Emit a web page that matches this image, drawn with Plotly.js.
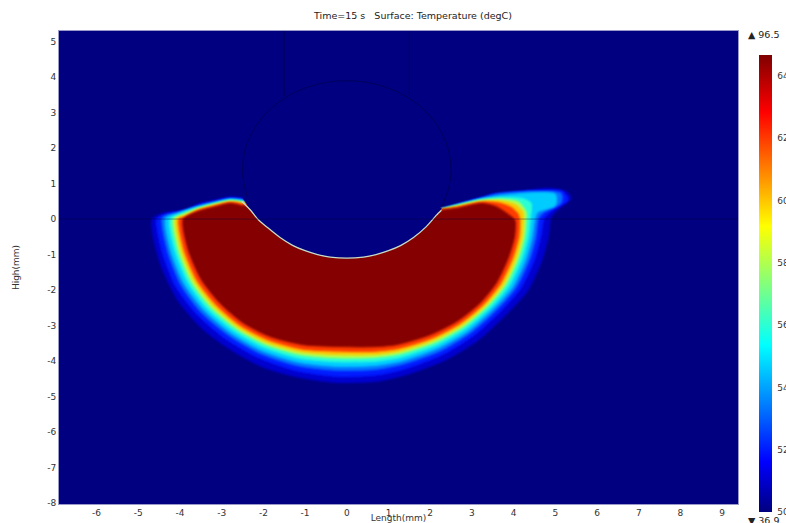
<!DOCTYPE html>
<html><head><meta charset="utf-8">
<script src="https://cdn.plot.ly/plotly-3.0.1.min.js"></script>
<style>html,body{margin:0;padding:0;background:#fff;overflow:hidden}#chart{width:786px;height:523px}</style>
</head><body><div id="chart"></div>
<script>
var titleText = "Time=15 s   Surface: Temperature (degC)";
var xTicks = [-6,-5,-4,-3,-2,-1,0,1,2,3,4,5,6,7,8,9];
var yTicks = [5,4,3,2,1,0,-1,-2,-3,-4,-5,-6,-7,-8];
var barTicks = [50,52,54,56,58,60,62,64];
var tempMin = 50, tempMax = 64.67;
var maxLabel = "▲ 96.5", minLabel = "▼ 36.9";

// Isotherm outlines, outermost first
var levels = [51, 52, 53.3, 54.6, 56, 58, 60, 62, 64.6];
var iso1x = [-2.48,-2.8,-3.2,-3.48,-3.92,-4.32,-4.66,-4.64,-4.44,-4.04,-3.48,-2.84,-2.03,-1.22,-0.3,0.72,1.44,2.4,3.16,3.82,4.33,4.68,4.83,4.9,5.14,5.38,5.26,4.78,3.98,3.19,2.63,2.27];
var iso1y = [0.58,0.62,0.52,0.45,0.24,0.18,0.01,-0.5,-1.36,-2.31,-3.07,-3.64,-4.16,-4.44,-4.6,-4.57,-4.38,-3.95,-3.4,-2.69,-2.03,-1.15,-0.5,0.06,0.35,0.58,0.77,0.86,0.72,0.6,0.4,0.28];
var iso2x = [-2.48,-2.8,-3.2,-3.5,-3.9,-4.3,-4.55,-4.43,-4.11,-3.61,-2.93,-2.15,-1.22,-0.29,0.69,1.37,2.3,3.04,3.68,4.16,4.5,4.65,4.74,4.94,5.3,5.18,4.4,3.5,3.2,2.63,2.27];
var iso2y = [0.56,0.59,0.49,0.42,0.22,0.15,0.02,-0.9,-1.88,-2.67,-3.36,-3.89,-4.27,-4.43,-4.4,-4.23,-3.82,-3.29,-2.61,-1.97,-1.14,-0.5,0.04,0.25,0.53,0.78,0.8,0.7,0.58,0.39,0.27];
var iso3x = [-2.48,-2.8,-3.2,-3.55,-4.1,-4.42,-4.3,-3.98,-3.5,-2.84,-2.09,-1.19,-0.29,0.67,1.34,2.25,2.96,3.58,4.05,4.38,4.53,4.6,4.74,5.14,5.14,4.4,3.6,3.2,2.63,2.27];
var iso3y = [0.54,0.57,0.47,0.37,0.17,0.04,-0.89,-1.85,-2.62,-3.27,-3.78,-4.13,-4.26,-4.24,-4.09,-3.71,-3.21,-2.57,-1.94,-1.13,-0.5,0.03,0.2,0.46,0.72,0.77,0.7,0.57,0.39,0.27];
var iso4x = [-2.5,-2.8,-3.2,-3.6,-4.05,-4.34,-4.22,-3.9,-3.42,-2.78,-2.05,-1.17,-0.28,0.66,1.31,2.2,2.9,3.51,3.97,4.29,4.44,4.51,4.58,5.0,5.0,4.5,3.7,3.2,2.63,2.27];
var iso4y = [0.52,0.55,0.45,0.33,0.16,0.02,-0.89,-1.82,-2.57,-3.21,-3.7,-4.03,-4.15,-4.13,-4.0,-3.63,-3.16,-2.53,-1.92,-1.13,-0.5,0.02,0.2,0.38,0.7,0.74,0.66,0.56,0.39,0.27];
var iso5x = [-2.5,-2.8,-3.2,-3.6,-4.0,-4.24,-4.12,-3.8,-3.34,-2.71,-2.0,-1.14,-0.27,0.65,1.28,2.16,2.84,3.44,3.88,4.2,4.35,4.4,4.42,4.2,3.7,3.2,2.63,2.27];
var iso5y = [0.5,0.53,0.43,0.31,0.14,0.0,-0.88,-1.8,-2.53,-3.15,-3.61,-3.92,-4.02,-4.01,-3.9,-3.55,-3.1,-2.5,-1.9,-1.12,-0.5,0.0,0.45,0.58,0.6,0.54,0.38,0.27];
var iso6x = [-2.52,-2.8,-3.2,-3.6,-3.95,-4.16,-4.04,-3.72,-3.26,-2.65,-1.96,-1.12,-0.27,0.63,1.26,2.12,2.79,3.37,3.8,4.11,4.26,4.3,4.3,4.12,3.7,3.2,2.63,2.27];
var iso6y = [0.48,0.51,0.41,0.28,0.12,0.0,-0.88,-1.78,-2.49,-3.09,-3.53,-3.82,-3.91,-3.9,-3.8,-3.47,-3.04,-2.46,-1.87,-1.12,-0.5,0.0,0.2,0.48,0.56,0.52,0.37,0.27];
var iso7x = [-2.55,-2.8,-3.2,-3.6,-3.9,-4.09,-3.97,-3.65,-3.2,-2.6,-1.93,-1.1,-0.26,0.62,1.24,2.08,2.74,3.32,3.74,4.05,4.2,4.23,4.22,4.05,3.7,3.25,2.63,2.27];
var iso7y = [0.46,0.49,0.39,0.26,0.1,0.0,-0.88,-1.76,-2.45,-3.05,-3.47,-3.74,-3.82,-3.82,-3.73,-3.41,-3.0,-2.44,-1.86,-1.11,-0.5,-0.01,0.2,0.4,0.51,0.5,0.35,0.27];
var iso8x = [-2.55,-2.8,-3.2,-3.6,-3.85,-4.02,-3.9,-3.58,-3.13,-2.55,-1.89,-1.08,-0.26,0.61,1.22,2.05,2.7,3.27,3.67,3.97,4.12,4.14,4.1,3.95,3.65,3.25,2.63,2.27];
var iso8y = [0.44,0.47,0.36,0.23,0.07,0.0,-0.87,-1.75,-2.42,-3.0,-3.4,-3.66,-3.72,-3.73,-3.65,-3.35,-2.95,-2.41,-1.84,-1.11,-0.5,-0.02,0.15,0.32,0.45,0.48,0.33,0.27];
var iso9x = [-2.56,-2.8,-3.2,-3.6,-3.92,-3.8,-3.48,-3.04,-2.48,-1.84,-1.05,-0.25,0.6,1.19,2.0,2.63,3.19,3.58,3.87,4.02,4.03,3.9,3.58,3.23,2.63,2.27];
var iso9y = [0.39,0.44,0.33,0.2,0.0,-0.87,-1.72,-2.37,-2.93,-3.31,-3.54,-3.59,-3.6,-3.54,-3.26,-2.89,-2.37,-1.81,-1.1,-0.5,-0.03,0.11,0.35,0.44,0.3,0.25];
var outlineX = [iso1x,iso2x,iso3x,iso4x,iso5x,iso6x,iso7x,iso8x,iso9x];
var outlineY = [iso1y,iso2y,iso3y,iso4y,iso5y,iso6y,iso7y,iso8y,iso9y];

// The crater edge of the melt
var arcX = [-2.52,-2.3,-2.12,-1.9,-1.6,-1.3,-1.0,-0.7,-0.4,0,0.4,0.7,1.0,1.3,1.6,1.9,2.15,2.27];
var arcY = [0.5,0.24,-0.02,-0.24,-0.52,-0.74,-0.89,-1.0,-1.07,-1.1,-1.07,-1.0,-0.89,-0.74,-0.52,-0.22,0.11,0.25];
var coverX = [-2.5,-2.3,-2.12,-1.9,-1.6,-1.3,-1.0,-0.7,-0.4,0,0.4,0.7,1.0,1.3,1.6,1.9,2.15,2.27,1.5,-1.5];
var coverY = [0.6,0.24,-0.02,-0.24,-0.52,-0.74,-0.89,-1.0,-1.07,-1.1,-1.07,-1.0,-0.89,-0.74,-0.52,-0.22,0.11,0.3,1.0,1.0];

// Faint geometry lines
var circleBox = [-2.5,-1.1,2.5,3.9];
var stemX = [-1.5,1.5];
var stemBottom = 3.46, stemTop = 5.3;
var baseY = 0;

var navy = "#000080";
var stops = [[0,[0,0,128]],[0.11,[0,0,255]],[0.365,[0,255,255]],[0.625,[255,255,0]],[0.875,[255,0,0]],[1,[128,0,0]]];
var colorscale = stops.map(function(s){return [s[0],"rgb("+s[1].join(",")+")"];});
function colourOf(t){
  var f=Math.max(0,Math.min(1,(t-tempMin)/(tempMax-tempMin)));
  for(var i=1;i<stops.length;i++){ if(f<=stops[i][0]){
    var a=stops[i-1],b=stops[i],k=(f-a[0])/(b[0]-a[0]);
    return "rgb("+a[1].map(function(v,j){return Math.round(v+(b[1][j]-v)*k);}).join(",")+")";
  }}
  return "rgb(128,0,0)";
}

var traces = levels.map(function(t,i){
  return {type:"scatter",mode:"lines",x:outlineX[i],y:outlineY[i],fill:"toself",
    fillcolor:colourOf(t),hoverinfo:"skip",showlegend:false,
    line:{color:colourOf(t),width:1,shape:"spline",smoothing:0.7}};
});
traces.push({type:"scatter",mode:"lines",x:coverX,y:coverY,fill:"toself",fillcolor:navy,
  line:{color:navy,width:0.5},hoverinfo:"skip",showlegend:false});
traces.push({type:"scatter",mode:"lines",x:arcX,y:arcY,
  line:{color:"#c8dcc8",width:1.3,shape:"spline",smoothing:0.6},hoverinfo:"skip",showlegend:false});
traces.push({type:"scatter",mode:"markers",x:[0,0],y:[2,2],hoverinfo:"skip",showlegend:false,
  marker:{opacity:0,size:1,color:[tempMin,tempMax],cmin:tempMin,cmax:tempMax,colorscale:colorscale,showscale:true,
    colorbar:{x:1.0302,xanchor:"left",xref:"paper",xpad:0,y:0.9493,yanchor:"top",yref:"paper",ypad:0,
      lenmode:"pixels",len:457,thicknessmode:"pixels",thickness:13,outlinewidth:0,
      tickmode:"array",tickvals:barTicks,ticktext:barTicks.map(String),ticks:"outside",ticklen:4,tickcolor:"rgba(0,0,0,0)",
      tickfont:{family:"DejaVu Sans",size:9,color:"#333"}}}});

var shapes = [
  {type:"circle",xref:"x",yref:"y",x0:circleBox[0],y0:circleBox[1],x1:circleBox[2],y1:circleBox[3],layer:"below",line:{color:"#00005c",width:1}},
  {type:"line",xref:"x",yref:"y",x0:stemX[0],x1:stemX[0],y0:stemBottom,y1:stemTop,layer:"below",line:{color:"#00005c",width:1}},
  {type:"line",xref:"x",yref:"y",x0:stemX[1],x1:stemX[1],y0:stemBottom,y1:stemTop,layer:"below",line:{color:"#00005c",width:1}},
  {type:"line",xref:"paper",yref:"y",x0:0,x1:1,y0:baseY,y1:baseY,layer:"above",line:{color:"rgba(0,0,60,0.5)",width:0.8}}
];

var font = {family:"DejaVu Sans",size:9,color:"#333"};
var layout = {
  width:786,height:523,paper_bgcolor:"#fff",plot_bgcolor:navy,showlegend:false,
  margin:{l:59,r:47.5,t:31,b:18.5,pad:0,autoexpand:false},
  font:font,
  title:{text:titleText,font:{family:"DejaVu Sans",size:9.5,color:"#222"},x:413/786,xanchor:"center",y:1-16/523,yanchor:"middle"},
  xaxis:{range:[-6.9,9.38],tickmode:"array",tickvals:xTicks,ticktext:xTicks.map(String),ticks:"",showgrid:false,zeroline:false,
    showline:true,linecolor:"#9a9ac8",linewidth:1,mirror:true,automargin:false,
    tickfont:font,title:{text:"Length(mm)",font:font,standoff:2}},
  yaxis:{range:[-8.03,5.3],tickmode:"array",tickvals:yTicks,ticktext:yTicks.map(String),ticks:"",showgrid:false,zeroline:false,
    showline:true,linecolor:"#9a9ac8",linewidth:1,mirror:true,automargin:false,
    tickfont:font,title:{text:"High(mm)",font:font,standoff:26}},
  shapes:shapes,
  annotations:[
    {text:maxLabel,xref:"paper",yref:"paper",x:(747-59)/679.5,y:(504.5-35)/473.5,xanchor:"left",yanchor:"middle",showarrow:false,font:{family:"DejaVu Sans",size:9.5,color:"#222"}},
    {text:minLabel,xref:"paper",yref:"paper",x:(747-59)/679.5,y:(504.5-521)/473.5,xanchor:"left",yanchor:"middle",showarrow:false,font:{family:"DejaVu Sans",size:9.5,color:"#222"}}
  ]
};
Plotly.newPlot("chart",traces,layout,{displayModeBar:false,staticPlot:true}).then(function(gd){
  var svg = gd.querySelector(".main-svg");
  var ns = "http://www.w3.org/2000/svg";
  var f = document.createElementNS(ns,"filter");
  f.setAttribute("id","soft");
  f.setAttribute("x","-5%");f.setAttribute("y","-5%");f.setAttribute("width","110%");f.setAttribute("height","110%");
  var b = document.createElementNS(ns,"feGaussianBlur");
  b.setAttribute("stdDeviation","1.2");
  f.appendChild(b);
  svg.querySelector("defs").appendChild(f);
  var groups = svg.querySelectorAll(".scatterlayer .trace");
  for(var i=0;i<levels.length && i<groups.length;i++) groups[i].setAttribute("filter","url(#soft)");
});
</script></body></html>
